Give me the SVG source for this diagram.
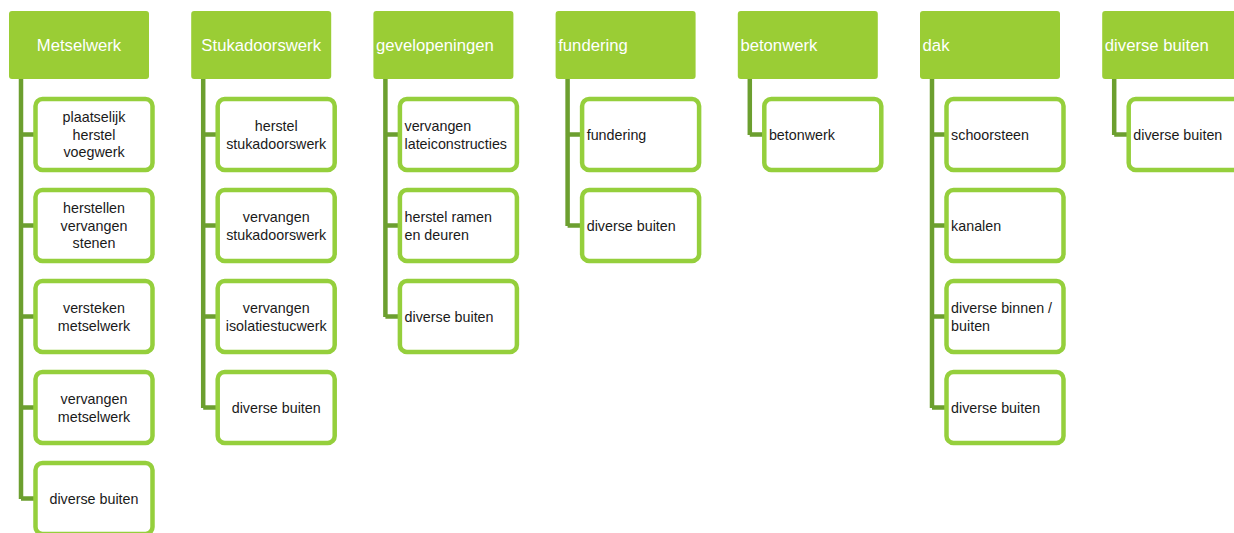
<svg xmlns="http://www.w3.org/2000/svg" width="1234" height="533" viewBox="0 0 1234 533">
<style>
.hd{fill:#9acd35;}
.ch{fill:#ffffff;stroke:#95cf3c;stroke-width:4.5;}
.cn{fill:none;stroke:#6c9f2f;stroke-width:4.5;stroke-linejoin:miter;}
.ht{font-family:"Liberation Sans",Arial,sans-serif;font-size:16.7px;fill:#ffffff;}
.ct{font-family:"Liberation Sans",Arial,sans-serif;font-size:14.3px;fill:#1a1a1a;}
.c{text-anchor:middle;}
</style>
<rect width="1234" height="533" fill="#ffffff"/>
<g id="connectors">
<path class="cn" d="M21,79 V499 M21,134.5 H35 M21,225.5 H35 M21,316.5 H35 M21,407.5 H35 M21,498.5 H35"/>
<path class="cn" d="M203.2,79 V408 M203.2,134.5 H217 M203.2,225.5 H217 M203.2,316.5 H217 M203.2,407.5 H217"/>
<path class="cn" d="M385.4,79 V317 M385.4,134.5 H399 M385.4,225.5 H399 M385.4,316.5 H399"/>
<path class="cn" d="M567.6,79 V226 M567.6,134.5 H582 M567.6,225.5 H582"/>
<path class="cn" d="M749.8,79 V135 M749.8,134.5 H764"/>
<path class="cn" d="M932,79 V408 M932,134.5 H946 M932,225.5 H946 M932,316.5 H946 M932,407.5 H946"/>
<path class="cn" d="M1114.2,79 V135 M1114.2,134.5 H1128"/>
</g>
<g id="metselwerk">
<rect class="hd" x="9" y="11" width="140" height="68" rx="3"/>
<text class="ht c" x="79" y="51">Metselwerk</text>
</g>
<g id="metselwerk-1"><rect class="ch" x="35.5" y="99" width="117" height="71" rx="7"/>
<text class="ct c" x="94" y="122">plaatselijk</text><text class="ct c" x="94" y="139.5">herstel</text><text class="ct c" x="94" y="157">voegwerk</text></g>
<g id="metselwerk-2"><rect class="ch" x="35.5" y="190" width="117" height="71" rx="7"/>
<text class="ct c" x="94" y="213">herstellen</text><text class="ct c" x="94" y="230.5">vervangen</text><text class="ct c" x="94" y="248">stenen</text></g>
<g id="metselwerk-3"><rect class="ch" x="35.5" y="281" width="117" height="71" rx="7"/>
<text class="ct c" x="94" y="313">versteken</text><text class="ct c" x="94" y="330.5">metselwerk</text></g>
<g id="metselwerk-4"><rect class="ch" x="35.5" y="372" width="117" height="71" rx="7"/>
<text class="ct c" x="94" y="404">vervangen</text><text class="ct c" x="94" y="421.5">metselwerk</text></g>
<g id="metselwerk-5"><rect class="ch" x="35.5" y="463" width="117" height="71" rx="7"/>
<text class="ct c" x="94" y="503.5">diverse buiten</text></g>

<g id="stukadoorswerk">
<rect class="hd" x="191.2" y="11" width="140" height="68" rx="3"/>
<text class="ht c" x="261.2" y="51">Stukadoorswerk</text>
</g>
<g id="stukadoorswerk-1"><rect class="ch" x="217.7" y="99" width="117" height="71" rx="7"/>
<text class="ct c" x="276.2" y="131">herstel</text><text class="ct c" x="276.2" y="148.5">stukadoorswerk</text></g>
<g id="stukadoorswerk-2"><rect class="ch" x="217.7" y="190" width="117" height="71" rx="7"/>
<text class="ct c" x="276.2" y="222">vervangen</text><text class="ct c" x="276.2" y="239.5">stukadoorswerk</text></g>
<g id="stukadoorswerk-3"><rect class="ch" x="217.7" y="281" width="117" height="71" rx="7"/>
<text class="ct c" x="276.2" y="313">vervangen</text><text class="ct c" x="276.2" y="330.5">isolatiestucwerk</text></g>
<g id="stukadoorswerk-4"><rect class="ch" x="217.7" y="372" width="117" height="71" rx="7"/>
<text class="ct c" x="276.2" y="412.5">diverse buiten</text></g>

<g id="gevelopeningen">
<rect class="hd" x="373.4" y="11" width="140" height="68" rx="3"/>
<text class="ht" x="376" y="51">gevelopeningen</text>
</g>
<g id="gevelopeningen-1"><rect class="ch" x="399.9" y="99" width="117" height="71" rx="7"/>
<text class="ct" x="404.5" y="131">vervangen</text><text class="ct" x="404.5" y="148.5">lateiconstructies</text></g>
<g id="gevelopeningen-2"><rect class="ch" x="399.9" y="190" width="117" height="71" rx="7"/>
<text class="ct" x="404.5" y="222">herstel ramen</text><text class="ct" x="404.5" y="239.5">en deuren</text></g>
<g id="gevelopeningen-3"><rect class="ch" x="399.9" y="281" width="117" height="71" rx="7"/>
<text class="ct" x="404.5" y="321.5">diverse buiten</text></g>

<g id="fundering">
<rect class="hd" x="555.6" y="11" width="140" height="68" rx="3"/>
<text class="ht" x="558.2" y="51">fundering</text>
</g>
<g id="fundering-1"><rect class="ch" x="582.1" y="99" width="117" height="71" rx="7"/>
<text class="ct" x="586.7" y="139.5">fundering</text></g>
<g id="fundering-2"><rect class="ch" x="582.1" y="190" width="117" height="71" rx="7"/>
<text class="ct" x="586.7" y="230.5">diverse buiten</text></g>

<g id="betonwerk">
<rect class="hd" x="737.8" y="11" width="140" height="68" rx="3"/>
<text class="ht" x="740.4" y="51">betonwerk</text>
</g>
<g id="betonwerk-1"><rect class="ch" x="764.3" y="99" width="117" height="71" rx="7"/>
<text class="ct" x="768.9" y="139.5">betonwerk</text></g>

<g id="dak">
<rect class="hd" x="920" y="11" width="140" height="68" rx="3"/>
<text class="ht" x="922.6" y="51">dak</text>
</g>
<g id="dak-1"><rect class="ch" x="946.5" y="99" width="117" height="71" rx="7"/>
<text class="ct" x="951.1" y="139.5">schoorsteen</text></g>
<g id="dak-2"><rect class="ch" x="946.5" y="190" width="117" height="71" rx="7"/>
<text class="ct" x="951.1" y="230.5">kanalen</text></g>
<g id="dak-3"><rect class="ch" x="946.5" y="281" width="117" height="71" rx="7"/>
<text class="ct" x="951.1" y="313">diverse binnen /</text><text class="ct" x="951.1" y="330.5">buiten</text></g>
<g id="dak-4"><rect class="ch" x="946.5" y="372" width="117" height="71" rx="7"/>
<text class="ct" x="951.1" y="412.5">diverse buiten</text></g>

<g id="diverse-buiten">
<rect class="hd" x="1102.2" y="11" width="140" height="68" rx="3"/>
<text class="ht" x="1104.8" y="51">diverse buiten</text>
</g>
<g id="diverse-buiten-1"><rect class="ch" x="1128.7" y="99" width="117" height="71" rx="7"/>
<text class="ct" x="1133.3" y="139.5">diverse buiten</text></g>
</svg>
